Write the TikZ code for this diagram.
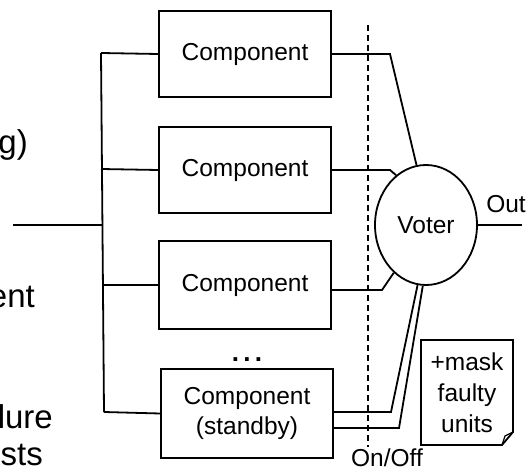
\documentclass[tikz,border=0pt]{standalone}
\usepackage{fontspec}
\setmainfont{Liberation Sans}
\usetikzlibrary{shapes.geometric}
\begin{document}
\begin{tikzpicture}[x=1pt,y=-1pt,
  every node/.style={font=\fontsize{24.5}{31}\selectfont},
  wire/.style={line width=1.8pt},
  compbox/.style={draw,line width=1.8pt,minimum width=172pt,inner sep=0pt,align=center},
  sidetext/.style={anchor=base east,inner sep=0pt,font=\fontsize{33}{38}\selectfont}]
\useasboundingbox (0,0) rectangle (530,470);
\clip (0,0) rectangle (530,470);
% side texts (cut by the left border)
\node[sidetext] (t1) at (28,154) {ng)};
\node[sidetext] (t2) at (35,308) {ent};
\node[sidetext] (t3) at (53,428) {lure};
\node[sidetext] (t4) at (43,465) {osts};
% components
\node[compbox,minimum height=86pt] (comp1) at (245,54) {Component};
\node[compbox,minimum height=86pt] (comp2) at (245,170) {Component};
\node[compbox,minimum height=88pt] (comp3) at (245,285) {Component};
\node[compbox,minimum height=89pt] (comp4) at (247,413.5) {Component\\[-1pt](standby)};
\node[font=\bfseries\fontsize{26}{30}\selectfont] (dots) at (247,360) {.\,.\,.};
% bus
\coordinate (b1) at (101,53);
\coordinate (b2) at (101,169);
\coordinate (bin) at (102,225);
\coordinate (b3) at (102,285);
\coordinate (b4) at (104,412);
\coordinate (in0) at (13,225);
\draw[wire] (b1) -- (b4);
\draw[wire] (in0) -- (bin);
\draw[wire] (b1) -- (comp1.west);
\draw[wire] (b2) -- (comp2.west);
\draw[wire] (b3) -- (comp3.west);
\draw[wire] (b4) -- (comp4.west);
% on/off line
\coordinate (d1) at (368,25);
\coordinate (d2) at (368,447);
\draw[line width=1.4pt,dash pattern=on 6pt off 4pt] (d1) -- (d2);
\node[inner sep=0pt] (onoff) at (387,458) {On/Off};
% voter
\node[draw,ellipse,line width=1.8pt,minimum width=102pt,minimum height=120pt,inner sep=0pt] (voter) at (426,225) {Voter};
\coordinate (k1) at (390,54);
\coordinate (k2) at (390,170);
\coordinate (k3) at (382,290);
\coordinate (k4a) at (391,412);
\coordinate (k4b) at (399,428);
\draw[wire] (comp1.east) -- (k1) -- (voter.99);
\draw[wire] (comp2.east) -- (k2) -- (voter.121);
\draw[wire] (comp3.east |- k3) -- (k3) -- (voter.236);
\draw[wire] (comp4.east |- k4a) -- (k4a) -- (voter.262);
\draw[wire] (comp4.east |- k4b) -- (k4b) -- (voter.267);
\coordinate (out) at (522,225);
\draw[wire] (voter.east) -- (out);
\node[inner sep=0pt] (outlbl) at (506,204) {Out};
% note
\draw[line width=1.8pt,line join=miter] (421,340) -- (513,340) -- (513,432) -- (502,445) -- (421,445) -- cycle;
\draw[line width=1.2pt] (502,445) -- (505,436) -- (513,432);
\node[align=center,inner sep=0pt] (note) at (467,393) {+mask\\faulty\\units};
\end{tikzpicture}
\end{document}
